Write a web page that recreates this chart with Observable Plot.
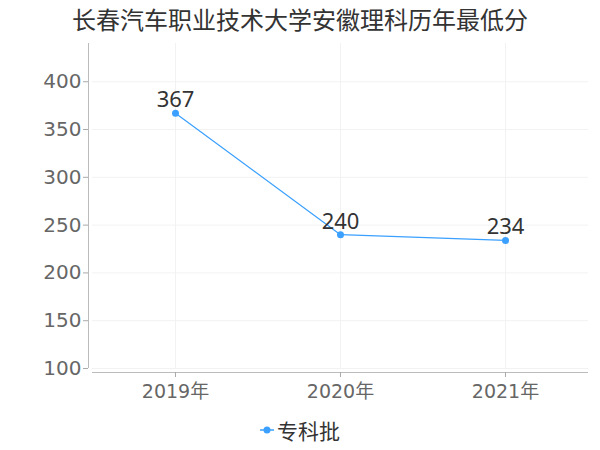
<!DOCTYPE html>
<html>
<head>
<meta charset="utf-8">
<script src="https://cdn.jsdelivr.net/npm/d3@7"></script>
<script src="https://cdn.jsdelivr.net/npm/@observablehq/plot@0.6"></script>
<style>
  body { margin: 0; background: #fff; font-family: "DejaVu Sans", "Noto Sans CJK SC", sans-serif; }
  #wrap { width: 600px; }
  #title { height: 40px; line-height: 38px; text-align: center; font-size: 24px; color: #333; font-family: "Noto Sans CJK SC", sans-serif; }
  #legend { height: 40px; display: flex; justify-content: center; align-items: center; font-size: 21px; color: #333; font-family: "Noto Sans CJK SC", sans-serif; }
  #legend svg { margin-right: 3px; }
</style>
</head>
<body>
<div id="wrap">
  <div id="title">长春汽车职业技术大学安徽理科历年最低分</div>
  <div id="chart"></div>
  <div id="legend"></div>
</div>
<script>
const years = ["2019年", "2020年", "2021年"];
const scores = [367, 240, 234];
const seriesName = "专科批";
const yTicks = [100, 150, 200, 250, 300, 350, 400];
const color = "#3ba0ff";

const data = years.map((y, i) => ({year: y, score: scores[i]}));

const plot = Plot.plot({
  width: 600,
  height: 370,
  marginTop: 3,
  marginBottom: 42,
  marginLeft: 92,
  marginRight: 12,
  style: {fontFamily: '"DejaVu Sans", "Noto Sans CJK SC", sans-serif', background: "#fff"},
  x: {type: "point", domain: years, padding: 0.5},
  y: {domain: [100, 440]},
  marks: [
    Plot.gridY(yTicks, {stroke: "#f2f2f2", strokeOpacity: 1}),
    Plot.gridX(years, {stroke: "#f2f2f2", strokeOpacity: 1}),
    Plot.ruleY([100], {dy: 4, stroke: "#bbb"}),
    Plot.axisY(yTicks, {tickSize: 5, tickPadding: 2, dx: -4, fontSize: 20, color: "#666", stroke: "#aaa", label: null}),
    Plot.axisX({tickSize: 5, dy: 4, tickPadding: 7, fontSize: 19, color: "#666", stroke: "#aaa", label: null}),
    Plot.line(data, {x: "year", y: "score", stroke: color, strokeWidth: 1.2}),
    Plot.dot(data, {x: "year", y: "score", r: 3.5, fill: color}),
    Plot.text(data, {x: "year", y: "score", text: d => String(d.score), dy: -13, fontSize: 22, fontFamily: '"Noto Sans", sans-serif', fill: "#333"})
  ]
});

// y-axis domain line
const ys = plot.scale("y");
const svg = d3.select(plot);
svg.append("line")
  .attr("x1", 88.5).attr("x2", 88.5)
  .attr("y1", ys.apply(440)).attr("y2", ys.apply(100))
  .attr("stroke", "#bbb");

document.getElementById("chart").appendChild(plot);

// legend
const lg = d3.select("#legend");
const ls = lg.append("svg").attr("width", 14).attr("height", 10);
ls.append("line").attr("x1", 0).attr("x2", 14).attr("y1", 5).attr("y2", 5).attr("stroke", color).attr("stroke-width", 1.5);
ls.append("circle").attr("cx", 7).attr("cy", 5).attr("r", 3.5).attr("fill", color);
lg.append("span").text(seriesName);
</script>
</body>
</html>
